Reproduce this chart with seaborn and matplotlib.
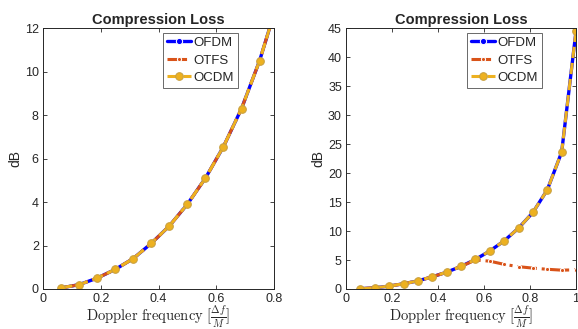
import numpy as np
import pandas as pd
import matplotlib
matplotlib.use("Agg")
import matplotlib.pyplot as plt
import seaborn as sns

doppler = [k / 16 for k in range(1, 17)]
# left panel
left_ofdm = [0.05, 0.2, 0.5, 0.9, 1.4, 2.1, 2.9, 3.9, 5.1, 6.55, 8.3, 10.5, 13.2, 17.1, 23.6, 44.5]
left_otfs = [0.05, 0.2, 0.5, 0.9, 1.4, 2.1, 2.9, 3.9, 5.1, 6.55, 8.3, 10.5, 13.2, 17.1, 23.6, 44.5]
left_ocdm = [0.05, 0.2, 0.5, 0.9, 1.4, 2.1, 2.9, 3.9, 5.1, 6.55, 8.3, 10.5, 13.2, 17.1, 23.6, 44.5]
# right panel
right_ofdm = [0.05, 0.2, 0.5, 0.9, 1.4, 2.1, 2.9, 3.9, 5.1, 6.55, 8.3, 10.5, 13.2, 17.1, 23.6, 44.5]
right_otfs = [0.05, 0.2, 0.5, 0.9, 1.4, 2.1, 2.9, 3.9, 5.0, 4.8, 4.25, 3.85, 3.6, 3.4, 3.25, 3.3]
right_ocdm = [0.05, 0.2, 0.5, 0.9, 1.4, 2.1, 2.9, 3.9, 5.1, 6.55, 8.3, 10.5, 13.2, 17.1, 23.6, 44.5]
series_names = ["OFDM", "OTFS", "OCDM"]
left_xlim, left_ylim = (0, 0.8), (0, 12)
right_xlim, right_ylim = (0, 1), (0, 45)
left_yticks = [0, 2, 4, 6, 8, 10, 12]
right_yticks = [0, 5, 10, 15, 20, 25, 30, 35, 40, 45]
left_xticks = [0, 0.2, 0.4, 0.6, 0.8]
right_xticks = [0, 0.2, 0.4, 0.6, 0.8, 1]


def make_df(a, b, c):
    return pd.DataFrame({
        "x": doppler * 3,
        "y": a + b + c,
        "s": sum([[n] * len(doppler) for n in series_names], []),
    })


left_df = make_df(left_ofdm, left_otfs, left_ocdm)
right_df = make_df(right_ofdm, right_otfs, right_ocdm)

sns.set_theme(style="white")
plt.rcParams["font.family"] = ["Liberation Sans", "DejaVu Sans"]
plt.rcParams["mathtext.fontset"] = "cm"

fig = plt.figure(figsize=(5.78, 3.29), dpi=100)
ax1 = fig.add_axes([0.0744, 0.1216, 0.3997, 0.793])
ax2 = fig.add_axes([0.5986, 0.1216, 0.398, 0.793])

styles = {
    "OFDM": dict(color="#0000FF", linestyle="-", marker="o", markersize=4.5, linewidth=2.4),
    "OTFS": dict(color="#D95319", linestyle="-.", marker="o", markersize=3, linewidth=2.2),
    "OCDM": dict(color="#EDB120", linestyle="--", marker="o", markersize=5.5, linewidth=2.2,
                 markeredgecolor="#C8A040", dashes=(4, 2.5)),
}

for ax, df, xlim, ylim, yt, xt, legx in [
    (ax1, left_df, left_xlim, left_ylim, left_yticks, left_xticks, 0.845),
    (ax2, right_df, right_xlim, right_ylim, right_yticks, right_xticks, 0.852),
]:
    for name in series_names:
        sub = df[df["s"] == name]
        st = dict(styles[name])
        sns.lineplot(data=sub, x="x", y="y", ax=ax, label=name, clip_on=True, **st)
    ax.set_xlim(*xlim)
    ax.set_ylim(*ylim)
    ax.set_yticks(yt)
    ax.set_xticks(xt)
    ax.set_xticklabels([("%g" % v) for v in xt])
    ax.tick_params(direction="in", length=3, width=0.6, labelsize=9, colors="#262626",
                   top=True, right=True, bottom=True, left=True, pad=3)
    for sp in ax.spines.values():
        sp.set_color("#262626")
        sp.set_linewidth(0.7)
    ax.set_title("Compression Loss", fontsize=10.5, fontweight="bold", pad=3)
    ax.set_ylabel("dB", fontsize=10, labelpad=2)
    ax.set_xlabel(r"$\mathrm{Doppler\ frequency}\ [\frac{\Delta f}{M}]$", fontsize=10.5, labelpad=-1)
    leg = ax.legend(loc="upper right", bbox_to_anchor=(legx, 0.982), fontsize=9.5,
                    frameon=True, fancybox=False, handlelength=1.8, handletextpad=0.2,
                    borderpad=0.3, labelspacing=0.4, borderaxespad=0)
    leg.get_frame().set_edgecolor("#262626")
    leg.get_frame().set_linewidth(0.6)

fig.savefig("out.png", dpi=100)
